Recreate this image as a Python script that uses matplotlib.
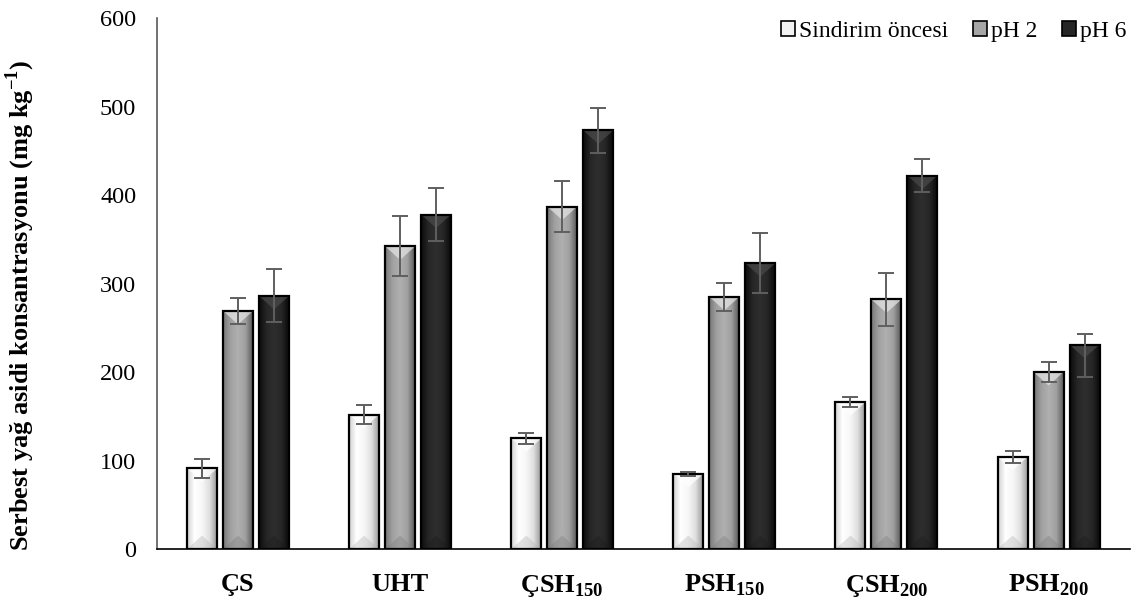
import numpy as np
import matplotlib
matplotlib.use('Agg')
import matplotlib.pyplot as plt
from matplotlib.colors import LinearSegmentedColormap
from matplotlib.patches import Patch, Polygon

categories = ['ÇS', 'UHT', r'ÇSH$_{\mathbf{150}}$', r'PSH$_{\mathbf{150}}$',
              r'ÇSH$_{\mathbf{200}}$', r'PSH$_{\mathbf{200}}$']
series = ['Sindirim öncesi', 'pH 2', 'pH 6']

before = [91, 152, 125, 85, 166, 104]
ph2 = [269, 342, 387, 285, 282, 200]
ph6 = [286, 378, 473, 323, 422, 231]

before_err = [11, 11, 6, 2, 6, 7]
ph2_err = [15, 34, 29, 16, 30, 11]
ph6_err_low = [30, 30, 25, 34, 19, 37]
ph6_err_high = [30, 30, 25, 34, 19, 12]

yticks = [0, 100, 200, 300, 400, 500, 600]

plt.rcParams['font.family'] = ['Liberation Serif', 'DejaVu Serif']
plt.rcParams['mathtext.fontset'] = 'custom'
plt.rcParams['mathtext.rm'] = 'Liberation Serif'
plt.rcParams['mathtext.bf'] = 'Liberation Serif:bold'

fills = ['#f2f2f2', '#a6a6a6', '#262626']
shades = [
    ['#d0d0d0', '#ffffff', '#f7f7f7', '#e0e0e0', '#9c9c9c'],
    ['#767676', '#a0a0a0', '#b0b0b0', '#a0a0a0', '#5a5a5a'],
    ['#0c0c0c', '#262626', '#2e2e2e', '#262626', '#0a0a0a'],
]
tops = ['#ffffff', '#e6e6e6', '#4a4a4a']
bottoms = ['#b0b0b0', '#7a7a7a', '#1a1a1a']


def shade_bar(ax, bar, cmap, top_color, bottom_color):
    x, y = bar.get_x(), bar.get_y()
    w, h = bar.get_width(), bar.get_height()
    grad = np.linspace(0, 1, 128).reshape(1, -1)
    im = ax.imshow(grad, cmap=cmap, extent=(x, x + w, y, y + h),
                   aspect='auto', zorder=2.2, interpolation='bilinear')
    im.set_clip_path(bar)
    # bevel depth in data units, taken from the bar width on screen
    (px0, _), (px1, _) = ax.transData.transform([(x, 0), (x + w, 0)])
    depth_px = 0.45 * (px1 - px0)
    depth = depth_px / (ax.transData.transform((0, 1))[1] - ax.transData.transform((0, 0))[1])
    depth = min(depth, h / 2)
    top = Polygon([(x, y + h), (x + w, y + h), (x + w / 2, y + h - depth)],
                  closed=True, facecolor=top_color, edgecolor='none',
                  alpha=0.7, zorder=2.3)
    bot = Polygon([(x, y), (x + w, y), (x + w / 2, y + depth)],
                  closed=True, facecolor=bottom_color, edgecolor='none',
                  alpha=0.35, zorder=2.3)
    for p in (top, bot):
        ax.add_patch(p)
        p.set_clip_path(bar)


fig = plt.figure(figsize=(11.41, 6.02), dpi=100)
ax = fig.add_axes([0.1376, 0.088, 0.8524, 0.882])
ax.set_xlim(-0.5, 5.5)
ax.set_ylim(0, 600)

x = np.arange(len(categories))
step = 0.222
width = 0.185
values = [before, ph2, ph6]
errors = [before_err, ph2_err, [ph6_err_low, ph6_err_high]]

for j, (vals, err) in enumerate(zip(values, errors)):
    pos = x + (j - 1) * step
    bars = ax.bar(pos, vals, width, color=fills[j], edgecolor='none', zorder=2)
    cmap = LinearSegmentedColormap.from_list('s%d' % j, shades[j])
    for b in bars:
        shade_bar(ax, b, cmap, tops[j], bottoms[j])
    ax.bar(pos, vals, width, fill=False, edgecolor='black', linewidth=1.6, zorder=2.5)
    ax.errorbar(pos, vals, yerr=err, fmt='none', ecolor='#5f5f5f',
                elinewidth=1.4, capsize=6, capthick=1.4, zorder=3)

ax.set_xlim(-0.5, 5.5)
ax.set_ylim(0, 600)
ax.set_yticks(yticks)
ax.set_xticks(x)
ax.set_xticklabels(categories, fontsize=19, fontweight='bold')
ax.tick_params(axis='x', length=0, pad=17)
ax.tick_params(axis='y', length=0, pad=15, labelsize=17.5)

for side in ('top', 'right'):
    ax.spines[side].set_visible(False)
ax.spines['left'].set_color('#595959')
ax.spines['left'].set_linewidth(1.2)
ax.spines['bottom'].set_color('black')
ax.spines['bottom'].set_linewidth(1.2)

ax.set_ylabel(r'Serbest yağ asidi konsantrasyonu (mg kg$^{\mathbf{-1}}$)',
              fontsize=19, fontweight='bold')
ax.yaxis.set_label_coords(-0.123, 0.458)

handles = [Patch(facecolor=fills[j], edgecolor='black', linewidth=1.2)
           for j in range(3)]
ax.legend(handles, series, loc='upper right', bbox_to_anchor=(1.006, 1.012),
          ncol=3, frameon=False, fontsize=17, handlelength=0.6,
          handleheight=0.6, handletextpad=0.15, columnspacing=1.05,
          borderaxespad=0)

fig.savefig('out.png', dpi=100)
